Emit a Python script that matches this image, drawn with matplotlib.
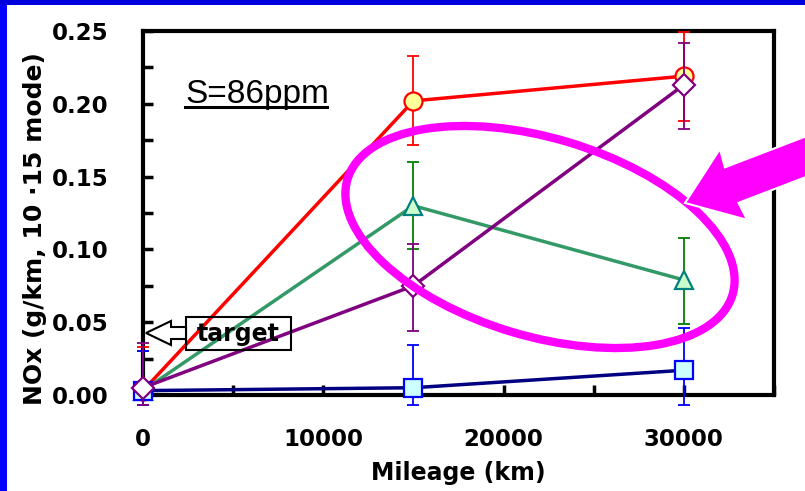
import numpy as np
import matplotlib
matplotlib.use("Agg")
import matplotlib.pyplot as plt
from matplotlib.patches import Ellipse, Polygon, Rectangle
from matplotlib.transforms import IdentityTransform
from matplotlib.ticker import MultipleLocator, FixedLocator

# ---------------- data ----------------
mileage = [0, 15000, 30000]

red_vals = [0.003, 0.202, 0.219]
red_lo = [-0.007, 0.172, 0.188]
red_hi = [0.033, 0.233, 0.249]

green_vals = [0.003, 0.130, 0.079]
green_lo = [-0.007, 0.100, 0.049]
green_hi = [0.030, 0.160, 0.108]

purple_vals = [0.005, 0.075, 0.213]
purple_lo = [-0.007, 0.044, 0.183]
purple_hi = [0.036, 0.104, 0.242]

blue_vals = [0.003, 0.005, 0.017]
blue_lo = [-0.007, -0.007, -0.007]
blue_hi = [0.030, 0.034, 0.046]

x_ticks = [0, 10000, 20000, 30000]
y_ticks = [0.00, 0.05, 0.10, 0.15, 0.20, 0.25]

W, H = 805, 491
fig = plt.figure(figsize=(W / 100, H / 100), dpi=100)
fig.patch.set_facecolor("white")

def px(x, y):
    return (x, H - y)

# blue frame (left and top)
fig.patches.append(Rectangle((0, 0), 7.0 / W, 1, transform=fig.transFigure,
                             facecolor="#0000FF", edgecolor="none", zorder=0))
fig.patches.append(Rectangle((0, 1 - 5.0 / H), 1, 5.0 / H, transform=fig.transFigure,
                             facecolor="#0000DD", edgecolor="none", zorder=0))

ax = fig.add_axes([143 / W, 1 - 395 / H, (774 - 143) / W, (395 - 31) / H])
ax.set_xlim(0, 35000)
ax.set_ylim(0, 0.25)

def series(vals, lo, hi, lcolor, ecolor, marker, mfc, mec, ms, z):
    vals = np.array(vals)
    yerr = np.vstack([vals - np.array(lo), np.array(hi) - vals])
    ax.errorbar(mileage, vals, yerr=yerr, fmt="none", ecolor=ecolor,
                elinewidth=1.3, capsize=4.3, capthick=1.3, zorder=z, clip_on=False)
    ax.plot(mileage, vals, color=lcolor, lw=2.5, zorder=z + 0.1, clip_on=False)
    ax.plot(mileage, vals, ls="none", marker=marker, mfc=mfc, mec=mec,
            ms=ms, mew=1.6, zorder=z + 0.2, clip_on=False)

series(red_vals, red_lo, red_hi, "#FF0000", "#FF0000", "o", "#FFFF99", "#FF0000", 13, 3)
series(green_vals, green_lo, green_hi, "#339966", "#008000", "^", "#CCFFCC", "#008080", 13, 4)
series(blue_vals, blue_lo, blue_hi, "#000080", "#0000FF", "s", "#CCFFFF", "#0000FF", 13, 5)
series(purple_vals, purple_lo, purple_hi, "#800080", "#800080", "D", "white", "#800080", 11.5, 6)

# axes styling
for s in ax.spines.values():
    s.set_linewidth(3)
    s.set_color("black")
ax.xaxis.set_major_locator(FixedLocator(x_ticks))
ax.xaxis.set_minor_locator(MultipleLocator(5000))
ax.yaxis.set_major_locator(FixedLocator(y_ticks))
ax.yaxis.set_minor_locator(MultipleLocator(0.025))
ax.set_xticklabels([f"{v:d}" for v in x_ticks])
ax.set_yticklabels([f"{v:.2f}" for v in y_ticks])
ax.tick_params(axis="both", which="both", direction="in", width=2.5, length=7,
               top=False, right=False)
ax.tick_params(axis="y", which="major", pad=25, labelsize=16.5)
ax.tick_params(axis="x", which="major", pad=24, labelsize=16.5)
for lab in ax.get_xticklabels() + ax.get_yticklabels():
    lab.set_fontweight("bold")

ax.set_xlabel("Mileage (km)", fontsize=17, fontweight="bold", labelpad=7)
fig.text(35 / W, 1 - 229 / H, "NOx (g/km, 10 \u00b715 mode)", rotation=90,
         fontsize=18, fontweight="bold", ha="center", va="center")

# S=86ppm label with underline
fig.text(185 / W, 1 - 103 / H, "S=86ppm", fontsize=24, family="Liberation Sans",
         ha="left", va="baseline")
fig.lines.append(plt.Line2D([185 / W, 327 / W], [1 - 107 / H, 1 - 107 / H],
                            transform=fig.transFigure, color="black", lw=2.2))

# target box and hollow arrow
tr = IdentityTransform()
box = Rectangle(px(186, 350), 105, 33, transform=tr, facecolor="none",
                edgecolor="black", lw=1.5, zorder=10)
fig.patches.append(box)
arrow_pts = [px(146, 333), px(171, 321), px(171, 327), px(186, 327),
             px(186, 339), px(171, 339), px(171, 345)]
fig.patches.append(Polygon(arrow_pts, closed=True, transform=tr, facecolor="white",
                           edgecolor="black", lw=1.5, zorder=10))
fig.text(238 / W, 1 - 334 / H, "target", fontsize=17, fontweight="bold",
         ha="center", va="center", zorder=11)

# magenta ellipse
ell = Ellipse(px(540, 237), 402, 198, angle=-16.7, transform=tr,
              facecolor="none", edgecolor="#FF00FF", lw=6, zorder=12)
fig.patches.append(ell)

# magenta block arrow
tip = np.array([685.0, 203.0])
u = np.array([120.0, -46.0]); u /= np.linalg.norm(u)
n = np.array([-u[1], u[0]])
if n[1] < 0:
    n = -n
pts = [tip, tip + 52 * u - 38 * n, tip + 50 * u - 19 * n, tip + 250 * u - 19 * n,
       tip + 250 * u + 19 * n, tip + 50 * u + 19 * n, tip + 52 * u + 38 * n]
fig.patches.append(Polygon([px(p[0], p[1]) for p in pts], closed=True, transform=tr,
                           facecolor="#FF00FF", edgecolor="white", lw=1.5, zorder=13))

fig.savefig("out.png", dpi=100)
